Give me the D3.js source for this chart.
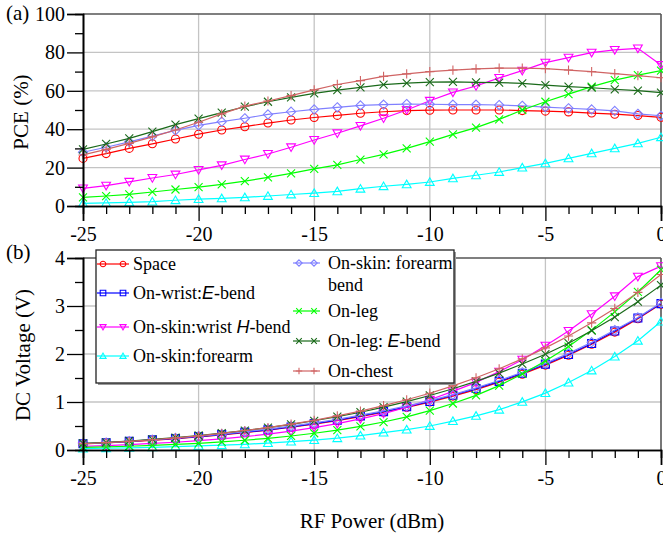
<!DOCTYPE html>
<html><head><meta charset="utf-8">
<script src="https://cdn.jsdelivr.net/npm/d3@7"></script>
<style>
body{margin:0;background:#fff} svg{display:block}
</style>
</head><body><svg id="c" width="663" height="535"></svg>
<script>
// ---------- DATA ----------
const rfPower = [-25,-24,-23,-22,-21,-20,-19,-18,-17,-16,-15,-14,-13,-12,-11,-10,-9,-8,-7,-6,-5,-4,-3,-2,-1,0];

const seriesNames = ["Space","On-wrist:*E*-bend","On-skin:wrist *H*-bend","On-skin:forearm",
  "On-skin: forearm|bend","On-leg","On-leg: *E*-bend","On-chest"];

// PCE (%) panel (a)
const pceSpace   = [24.8,27.3,30.0,32.4,34.9,37.4,39.6,41.3,43.2,44.8,46.1,47.2,48.3,49.1,49.7,49.9,50.0,50.0,50.0,49.7,49.4,49.0,48.4,47.8,47.1,46.2];
const pceWristH  = [9.2,10.6,12.6,14.6,16.4,18.8,21.2,24.2,27.1,30.6,34.4,37.9,41.7,45.7,50.0,54.8,59.2,62.5,66.7,70.5,74.7,77.3,79.9,81.3,82.1,73.4];
const pceForearm = [1.4,1.6,1.9,2.3,3.0,3.6,4.0,4.5,5.2,6.0,6.7,7.6,9.0,10.3,11.3,12.5,14.4,16.0,17.7,20.0,22.2,24.8,27.4,30.0,32.6,35.8];
const pceForearmBend = [28.0,30.6,33.4,36.4,39.4,42.0,43.9,45.7,47.7,49.1,50.3,51.4,52.4,52.8,53.1,53.0,52.8,52.8,52.6,52.2,51.5,50.9,50.3,49.5,48.0,47.0];
const pceLeg     = [4.5,5.2,6.1,7.3,8.6,9.8,11.3,13.0,14.9,17.0,19.3,21.4,24.2,26.9,30.0,33.5,37.3,40.8,45.1,50.0,54.3,58.3,62.2,65.6,68.2,70.5];
const pceLegE    = [29.5,32.3,35.2,38.7,42.4,45.5,48.6,51.7,54.3,56.6,58.7,60.4,61.8,63.2,64.0,64.5,64.6,64.4,64.3,63.9,63.0,62.2,61.6,60.8,60.1,59.0];
const pceChest   = [26.6,29.5,32.6,36.0,39.6,43.6,48.0,52.0,54.7,57.5,60.5,63.3,65.3,67.5,68.8,70.0,70.8,71.4,71.8,71.8,71.5,70.8,70.0,68.9,67.9,66.8];

// DC voltage (V) panel (b)
const dcSpace   = [0.125,0.147,0.173,0.202,0.235,0.273,0.316,0.362,0.415,0.474,0.540,0.613,0.696,0.787,0.889,0.999,1.122,1.259,1.413,1.580,1.768,1.975,2.203,2.456,2.735,3.040];
const dcWristE  = [0.13,0.15,0.18,0.21,0.24,0.28,0.32,0.37,0.42,0.48,0.55,0.62,0.71,0.80,0.90,1.01,1.14,1.28,1.43,1.60,1.79,1.99,2.22,2.48,2.75,3.05];
const dcWristH  = [0.076,0.092,0.112,0.136,0.161,0.194,0.231,0.277,0.329,0.392,0.466,0.549,0.647,0.759,0.891,1.047,1.221,1.408,1.632,1.882,2.174,2.481,2.830,3.203,3.612,3.831];
const dcForearm = [0.030,0.036,0.044,0.054,0.069,0.085,0.100,0.119,0.144,0.174,0.206,0.246,0.300,0.361,0.424,0.500,0.602,0.712,0.840,1.002,1.185,1.405,1.657,1.946,2.276,2.676];
const dcForearmBend = [0.133,0.156,0.183,0.214,0.250,0.290,0.332,0.381,0.436,0.497,0.564,0.640,0.725,0.816,0.918,1.030,1.153,1.294,1.449,1.619,1.805,2.013,2.245,2.499,2.761,3.066];
const dcLeg     = [0.053,0.064,0.078,0.096,0.117,0.140,0.169,0.203,0.244,0.292,0.349,0.413,0.493,0.583,0.690,0.819,0.969,1.137,1.342,1.585,1.853,2.155,2.497,2.877,3.292,3.755];
const dcLegE    = [0.137,0.160,0.188,0.221,0.260,0.302,0.350,0.405,0.466,0.533,0.609,0.694,0.787,0.893,1.008,1.136,1.275,1.429,1.602,1.792,1.996,2.225,2.485,2.770,3.090,3.435];
const dcChest   = [0.130,0.153,0.181,0.213,0.251,0.295,0.348,0.406,0.467,0.538,0.619,0.710,0.809,0.923,1.046,1.183,1.335,1.504,1.693,1.899,2.127,2.374,2.649,2.949,3.284,3.655];

const xTicks = [-25,-20,-15,-10,-5,0];
const pceTicks = [0,20,40,60,80,100];
const dcTicks = [0,1,2,3,4];

const seriesColors = ["#ff0000","#0000ff","#ff00ff","#00ffff","#8080ff","#00ff00","#1a6a1a","#d06464"];
const seriesMarkers = ["circle","square","triDown","triUp","diamond","x","x","plus"];
const pceData = [pceSpace,null,pceWristH,pceForearm,pceForearmBend,pceLeg,pceLegE,pceChest];
const dcData  = [dcSpace,dcWristE,dcWristH,dcForearm,dcForearmBend,dcLeg,dcLegE,dcChest];

// ---------- DRAW ----------
const svg = d3.select("#c");
const FONT = '"Liberation Serif"';
const IFONT = '"Liberation Sans"';
const L = 83, R = 661;
const x = d3.scaleLinear().domain([-25,0]).range([L,R]);
const yA = d3.scaleLinear().domain([0,100]).range([206,14]);
const yB = d3.scaleLinear().domain([0,4]).range([450,258]);

function markerPath(type, s){
  switch(type){
    case "square": return `M${-s},${-s}H${s}V${s}H${-s}Z`;
    case "triDown": return `M${-s*1.1},${-s*0.85}L${s*1.1},${-s*0.85}L0,${s*1.05}Z`;
    case "triUp": return `M${-s*1.1},${s*0.85}L${s*1.1},${s*0.85}L0,${-s*1.05}Z`;
    case "diamond": return `M0,${-s*1.15}L${s*1.15},0L0,${s*1.15}L${-s*1.15},0Z`;
    case "x": return `M${-s},${-s}L${s},${s}M${s},${-s}L${-s},${s}`;
    case "plus": return `M${-s*1.15},0H${s*1.15}M0,${-s*1.15}V${s*1.15}`;
  }
  return null;
}
function drawMarker(g, type, color, s){
  if(type==="circle"){
    g.append("circle").attr("r",s).attr("fill","none").attr("stroke",color).attr("stroke-width",1.1);
  } else {
    g.append("path").attr("d",markerPath(type,s)).attr("fill","none").attr("stroke",color).attr("stroke-width",1.1);
  }
}
const fmt = d => String(d);

function panel(y, ticks, minorStep, dataArr){
  const top = y.range()[1], bot = y.range()[0];
  const g = svg.append("g");
  g.selectAll(".gx").data(xTicks.filter(t=>t>-25&&t<0)).enter().append("line")
    .attr("x1",d=>x(d)).attr("x2",d=>x(d)).attr("y1",top).attr("y2",bot)
    .attr("stroke","#c4c4c4").attr("stroke-width",1.3);
  g.selectAll(".gy").data(ticks.filter(t=>t>ticks[0]&&t<ticks[ticks.length-1])).enter().append("line")
    .attr("x1",L).attr("x2",R).attr("y1",d=>y(d)).attr("y2",d=>y(d))
    .attr("stroke","#c4c4c4").attr("stroke-width",1.3);
  g.append("line").attr("x1",L).attr("x2",R).attr("y1",top).attr("y2",top).attr("stroke","#555").attr("stroke-width",1.6);
  g.append("line").attr("x1",R).attr("x2",R).attr("y1",top).attr("y2",bot).attr("stroke","#555").attr("stroke-width",1.6);

  const line = d3.line().x((d,i)=>x(rfPower[i])).y(d=>y(d));
  dataArr.forEach((arr,k)=>{
    if(!arr) return;
    const sg = g.append("g");
    sg.append("path").datum(arr).attr("d",line).attr("fill","none")
      .attr("stroke",seriesColors[k]).attr("stroke-width",1.2);
    arr.forEach((v,i)=>{
      const mg = sg.append("g").attr("transform",`translate(${x(rfPower[i])},${y(v)})`);
      drawMarker(mg, seriesMarkers[k], seriesColors[k], 4);
    });
  });

  const yAxis = d3.axisLeft(y).tickValues(ticks).tickSize(16).tickPadding(2).tickFormat(fmt);
  const yMinor = d3.axisLeft(y).tickValues(d3.range(ticks[0], ticks[ticks.length-1]+1e-9, minorStep).filter(v=>!ticks.some(t=>Math.abs(t-v)<1e-9))).tickSize(8).tickFormat("");
  const xAxis = d3.axisBottom(x).tickValues(xTicks).tickSize(15).tickPadding(6).tickFormat(fmt);
  const xMinor = d3.axisBottom(x).tickValues(rfPower.filter(v=>!xTicks.includes(v))).tickSize(8).tickFormat("");
  [g.append("g").attr("transform",`translate(${L},0)`).call(yMinor),
   g.append("g").attr("transform",`translate(${L},0)`).call(yAxis),
   g.append("g").attr("transform",`translate(0,${bot})`).call(xMinor),
   g.append("g").attr("transform",`translate(0,${bot})`).call(xAxis)].forEach(a=>{
     a.attr("font-family",null).attr("font-size",null);
     a.select(".domain").attr("stroke","#000").attr("stroke-width",1.6);
     a.selectAll(".tick line").attr("stroke","#000").attr("stroke-width",1.3);
     a.selectAll("text").style("font-family",FONT).style("font-size","20px").attr("fill","#000");
   });
  return g;
}

panel(yA, pceTicks, 10, pceData);
panel(yB, dcTicks, 0.5, dcData);

function txt(s, size){ return svg.append("text").text(s).style("font-family",FONT).style("font-size",size+"px"); }
txt("(a)",21).attr("x",6).attr("y",20);
txt("(b)",21).attr("x",6).attr("y",259);
txt("PCE (%)",21).attr("transform","translate(28,112) rotate(-90)").attr("text-anchor","middle");
txt("DC Voltage (V)",21).attr("transform","translate(30,355) rotate(-90)").attr("text-anchor","middle");
txt("RF Power (dBm)",21).attr("x",(L+R)/2).attr("y",528).attr("text-anchor","middle");

// legend
const lg = svg.append("g");
lg.append("rect").attr("x",98).attr("y",252).attr("width",358).attr("height",133).attr("fill","#9a9a9a");
lg.append("rect").attr("x",96).attr("y",250).attr("width",358).attr("height",133).attr("fill","#fff").attr("stroke","#222").attr("stroke-width",1.3);
const legendPos = [[97,264],[97,293],[97,327],[97,356],[293,263],[293,311],[293,341],[293,371]];
seriesNames.forEach((name,k)=>{
  const [lx,ly] = legendPos[k];
  const w = k<4 ? 32 : 27;
  lg.append("line").attr("x1",lx).attr("x2",lx+w).attr("y1",ly).attr("y2",ly).attr("stroke",seriesColors[k]).attr("stroke-width",1.2);
  [lx+6, lx+w-6].forEach(mx=>{
    drawMarker(lg.append("g").attr("transform",`translate(${mx},${ly})`), seriesMarkers[k], seriesColors[k], 2.8);
  });
  const tx = k<4 ? 133 : 328;
  name.split("|").forEach((lineTxt,li)=>{
    const t = lg.append("text").attr("x",tx).attr("y",ly+6+li*22).style("font-family",FONT).style("font-size","18px");
    lineTxt.split("*").forEach((part,pi)=>{
      if(!part) return;
      const ts = t.append("tspan").text(part);
      if(pi%2===1) ts.style("font-family",IFONT).style("font-style","italic");
    });
  });
});
</script>
</body></html>
